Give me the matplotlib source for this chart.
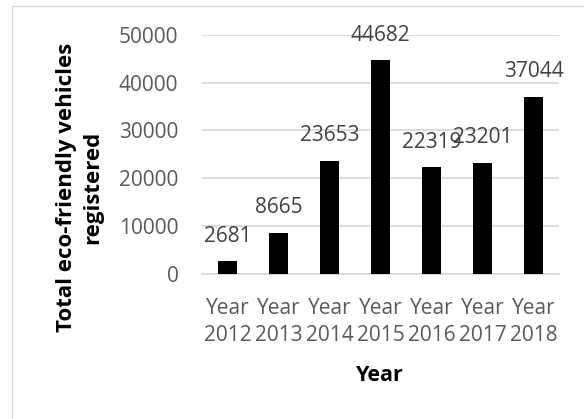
import matplotlib
matplotlib.use("Agg")
import matplotlib.pyplot as plt
from matplotlib.lines import Line2D

categories = ["Year\n2012", "Year\n2013", "Year\n2014", "Year\n2015",
              "Year\n2016", "Year\n2017", "Year\n2018"]
values = [2681, 8665, 23653, 44682, 22319, 23201, 37044]
yticks = [0, 10000, 20000, 30000, 40000, 50000]

W, H = 584, 419
DPI = 100
plt.rcParams['font.family'] = ['Open Sans', 'DejaVu Sans']

fig = plt.figure(figsize=(W / DPI, H / DPI), dpi=DPI)
ax = fig.add_axes([202 / W, (H - 274) / H, (559 - 202) / W, (274 - 34.7) / H])

x = list(range(len(categories)))
ax.bar(x, values, width=0.353, color="black", zorder=3)
ax.set_xlim(-0.5, len(categories) - 0.5)
ax.set_ylim(0, 50000)
ax.set_yticks(yticks)
ax.set_yticklabels([str(v) for v in yticks])
ax.set_xticks(x)
ax.set_xticklabels(categories, linespacing=1.42)

ax.grid(axis="y", color="#d9d9d9", linewidth=1.3, zorder=0)
ax.set_axisbelow(True)
for s in ["top", "right", "left"]:
    ax.spines[s].set_visible(False)
ax.spines["bottom"].set_color("#d9d9d9")
ax.spines["bottom"].set_linewidth(1.3)
ax.tick_params(axis="both", length=0, labelsize=15, colors="#595959")
ax.tick_params(axis="y", pad=17)
ax.tick_params(axis="x", pad=17)

for xi, v in zip(x, values):
    ax.annotate(str(v), (xi, v), xytext=(0, 18), textcoords="offset points",
                ha="center", va="center", fontsize=15, color="#404040",
                zorder=4)

fig.text(80 / W, (H - 187.5) / H, "Total eco-friendly vehicles\nregistered",
         rotation=90, ha="center", va="center", multialignment="center",
         fontsize=16, fontweight="bold", color="black", linespacing=1.32)
fig.text(380 / W, (H - 375) / H, "Year", ha="center", va="center",
         fontsize=15.5, fontweight="bold", color="black")

# chart area border (left and top visible)
fig.add_artist(Line2D([12 / W, 12 / W], [0, (H - 6) / H], transform=fig.transFigure,
                      color="#d9d9d9", linewidth=1.0))
fig.add_artist(Line2D([12 / W, 1], [(H - 6) / H, (H - 6) / H], transform=fig.transFigure,
                      color="#d9d9d9", linewidth=1.0))

fig.savefig("out.png", dpi=DPI)
